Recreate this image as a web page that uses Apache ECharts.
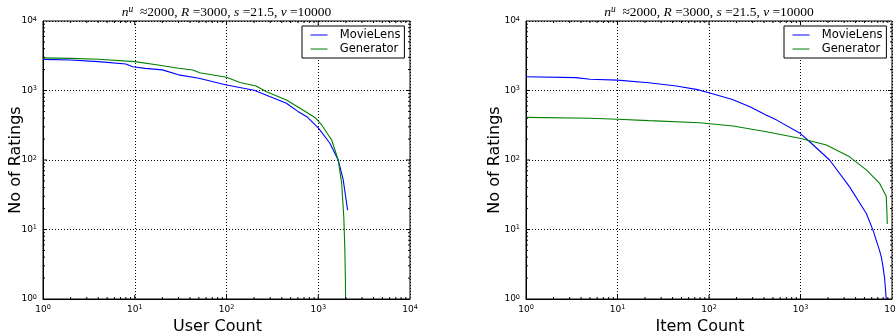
<!DOCTYPE html>
<html>
<head>
<meta charset="utf-8">
<script src="https://cdn.jsdelivr.net/npm/echarts@6/dist/echarts.min.js"></script>
<style>html,body{margin:0;padding:0;background:#fff}#c{width:896px;height:336px}</style>
</head>
<body>
<div id="c"></div>
<script>
// ---- data ----
const seriesNames = ['MovieLens', 'Generator'];
const xAxisNames = ['User Count', 'Item Count'];
const yAxisName = 'No of Ratings';
const decadeTicks = [1, 10, 100, 1000, 10000];

const userMovieLensX = [1, 2, 4, 8, 9.5, 13, 20, 30, 50, 100, 200, 300, 450, 600, 750, 1000, 1340, 1650, 1870, 2090];
const userMovieLensY = [2800, 2750, 2600, 2400, 2200, 2080, 1980, 1680, 1500, 1200, 1010, 815, 654, 500, 420, 290, 174, 100, 52, 19];

const userGeneratorX = [1, 2, 4, 10, 18, 30, 43, 51, 100, 140, 210, 273, 450, 680, 920, 1090, 1400, 1650, 1800, 1900, 1950, 1975, 1985];
const userGeneratorY = [2950, 2900, 2810, 2600, 2330, 2090, 1970, 1800, 1550, 1300, 1160, 960, 730, 524, 410, 319, 194, 100, 46, 15, 5, 2, 1];

const itemMovieLensX = [1, 3.5, 5, 10, 22, 44, 75, 100, 180, 280, 420, 550, 1000, 1260, 2080, 3440, 5240, 6200, 7300, 7650, 7950, 7950, 8300, 8300, 8600, 8650];
const itemMovieLensY = [1580, 1530, 1450, 1410, 1290, 1160, 1030, 930, 740, 585, 444, 375, 240, 183, 100, 41, 17, 9.8, 5, 4, 4, 3, 3, 2, 2, 1];

const itemGeneratorX = [1, 5, 10, 22, 79, 183, 424, 980, 1920, 3440, 5240, 7330, 8650, 8800, 8880];
const itemGeneratorY = [411, 398, 385, 368, 344, 308, 255, 205, 164, 111, 72, 46, 30, 18, 12];

// ---- build ----
const pairs = (xs, ys) => xs.map((x, i) => [x, ys[i]]);
const minorTicks = [];
for (let d = 1; d < 10000; d *= 10) for (let m = 2; m <= 9; m++) minorTicks.push(m * d);

const chart = echarts.init(document.getElementById('c'), null, {renderer: 'canvas'});

const grids = [
  {left: 43, top: 21, width: 367, height: 278},
  {left: 526, top: 21, width: 366, height: 278}
];

const labelRich = {
  s: {fontSize: 6.5, fontFamily: 'DejaVu Sans', color: '#000', verticalAlign: 'top', lineHeight: 6}
};
const supFmt = v => '10{s|' + Math.round(Math.log10(v)) + '}';

function xAx(i) {
  return {
    type: 'log', logBase: 10, min: 1, max: 10000, gridIndex: i, position: 'bottom',
    axisLine: {show: true, onZero: false, lineStyle: {color: '#000', width: 1}},
    axisTick: {show: false},
    axisLabel: {formatter: supFmt, rich: labelRich, fontFamily: 'DejaVu Sans', fontSize: 9, color: '#000', margin: 5, lineHeight: 11},
    splitLine: {show: true, lineStyle: {color: '#000', type: [1, 2], width: 1}},
    name: xAxisNames[i], nameLocation: 'middle', nameGap: 20, nameMoveOverlap: false,
    nameTextStyle: {fontFamily: 'DejaVu Sans', fontSize: 16, color: '#000', padding: [0, 18, 0, 0]}
  };
}
function yAx(i) {
  return {
    type: 'log', logBase: 10, min: 1, max: 10000, gridIndex: i, position: 'left',
    axisLine: {show: true, onZero: false, lineStyle: {color: '#000', width: 1}},
    axisTick: {show: false},
    axisLabel: {formatter: supFmt, rich: labelRich, fontFamily: 'DejaVu Sans', fontSize: 9, color: '#000', margin: 6, lineHeight: 11},
    splitLine: {show: true, lineStyle: {color: '#000', type: [1, 2], width: 1}},
    name: yAxisName, nameLocation: 'middle', nameGap: i === 0 ? 19 : 23, nameMoveOverlap: false,
    nameTextStyle: {fontFamily: 'DejaVu Sans', fontSize: 16, color: '#000'}
  };
}

function tickSeries(i) {
  const vals = decadeTicks.slice(1, 4).map(v => [v, v, 4]).concat(minorTicks.map(v => [v, v, 2]));
  return {
    type: 'custom', xAxisIndex: i, yAxisIndex: i, silent: true, z: 5, clip: false,
    data: vals,
    encode: {x: 0, y: 1},
    renderItem: function (params, api) {
      const v = api.value(0), len = api.value(2);
      const b = api.coord([v, 1]), t = api.coord([v, 10000]);
      const l = api.coord([1, v]), r = api.coord([10000, v]);
      const st = {stroke: '#000', lineWidth: 1};
      return {type: 'group', children: [
        {type: 'line', shape: {x1: b[0], y1: b[1], x2: b[0], y2: b[1] - len}, style: st},
        {type: 'line', shape: {x1: t[0], y1: t[1], x2: t[0], y2: t[1] + len}, style: st},
        {type: 'line', shape: {x1: l[0], y1: l[1], x2: l[0] + len, y2: l[1]}, style: st},
        {type: 'line', shape: {x1: r[0], y1: r[1], x2: r[0] - len, y2: r[1]}, style: st}
      ]};
    }
  };
}

function lineSeries(name, data, color, i) {
  return {
    type: 'line', name: name, data: data, xAxisIndex: i, yAxisIndex: i,
    symbol: 'none', smooth: false, lineStyle: {color: color, width: 1.1}, itemStyle: {color: color},
    z: 3, clip: true
  };
}

function legend(left) {
  return {
    left: left, top: 26, orient: 'vertical', data: seriesNames,
    borderColor: '#000', borderWidth: 1, borderRadius: 0, backgroundColor: '#fff',
    padding: [3, 4, 3, 8], itemWidth: 17, itemHeight: 14, itemGap: 2,
    itemStyle: {opacity: 0, borderWidth: 0},
    lineStyle: {width: 1},
    formatter: n => '  ' + n,
    textStyle: {fontFamily: 'DejaVu Sans', fontSize: 11.5, color: '#000'},
    selectedMode: false
  };
}

const titleText = '{i|n}{s|u}  ≈2000, {i|R} =3000, {i|s} =21.5, {i|v} =10000';
const titleRich = {
  i: {fontFamily: 'Liberation Serif', fontStyle: 'italic', fontSize: 13.5, lineHeight: 16, fill: '#000'},
  s: {fontFamily: 'Liberation Serif', fontStyle: 'italic', fontSize: 9.5, verticalAlign: 'top', lineHeight: 9, fill: '#000'}
};
function titleGraphic(cx) {
  return {
    type: 'text', x: cx, y: 12, z: 10,
    style: {text: titleText, fontFamily: 'Liberation Serif', fontSize: 13.5, lineHeight: 16, fill: '#000', align: 'center', verticalAlign: 'middle', rich: titleRich}
  };
}

chart.setOption({
  animation: false,
  backgroundColor: '#fff',
  grid: grids.map(g => Object.assign({show: true, borderColor: '#000', borderWidth: 1, backgroundColor: 'transparent', outerBoundsMode: 'none', containLabel: false}, g)),
  xAxis: [xAx(0), xAx(1)],
  yAxis: [yAx(0), yAx(1)],
  legend: [legend(302), legend(784)],
  graphic: [titleGraphic(226.5), titleGraphic(709)],
  series: [
    lineSeries(seriesNames[0], pairs(userMovieLensX, userMovieLensY), '#0000ff', 0),
    lineSeries(seriesNames[1], pairs(userGeneratorX, userGeneratorY), '#008000', 0),
    lineSeries(seriesNames[0], pairs(itemMovieLensX, itemMovieLensY), '#0000ff', 1),
    lineSeries(seriesNames[1], pairs(itemGeneratorX, itemGeneratorY), '#008000', 1),
    tickSeries(0), tickSeries(1)
  ]
});
</script>
</body>
</html>
